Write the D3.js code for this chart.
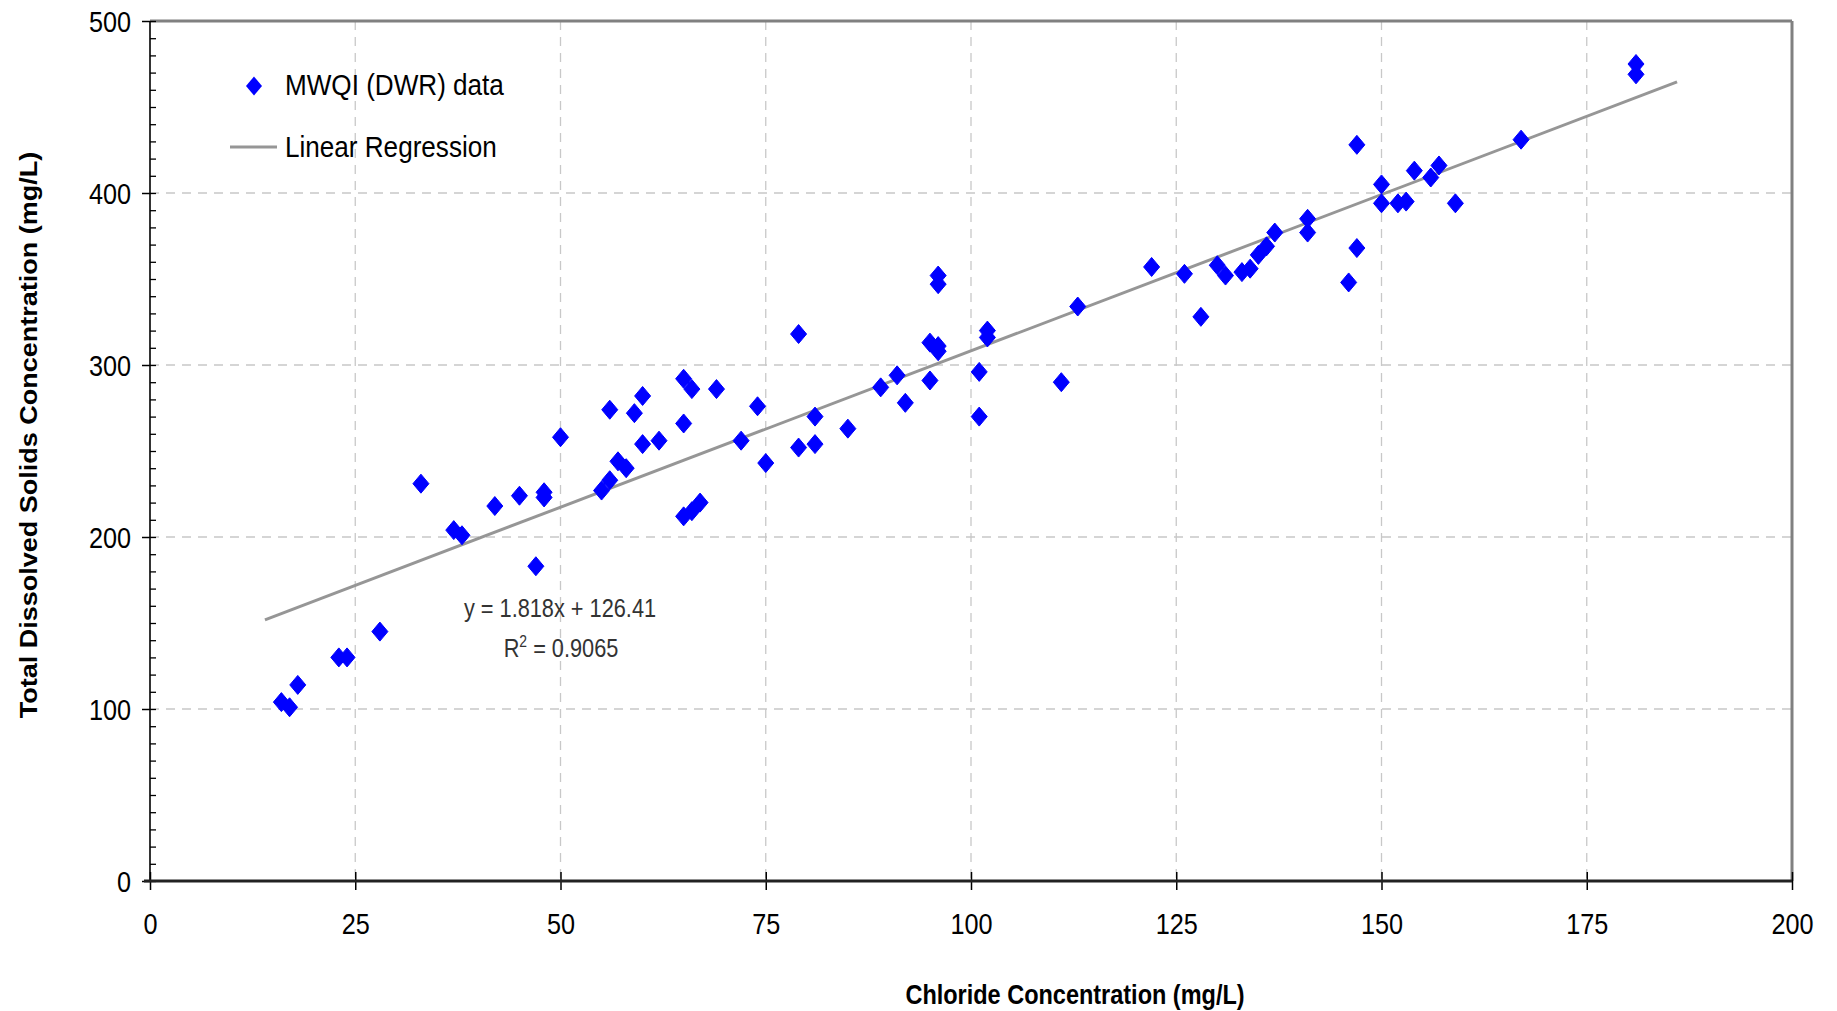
<!DOCTYPE html>
<html>
<head>
<meta charset="utf-8">
<script src="https://cdn.jsdelivr.net/npm/d3@7"></script>
<style>
  body { margin: 0; background: #fff; }
  svg { display: block; font-family: "Liberation Sans", Arial, sans-serif; }
</style>
</head>
<body>
<div id="chart"></div>
<script>
// Chloride (mg/L) vs TDS (mg/L), MWQI (DWR) samples
const chloride = [16, 17, 18, 23, 24, 28, 33, 37, 38, 42, 45, 47, 48, 48, 50,
    55, 56, 56, 57, 58, 59, 60, 60, 62, 65, 65, 66, 65, 66, 67, 69, 72, 74, 75,
    79, 79, 81, 81, 85, 89, 91, 92, 95, 95, 96, 96, 96, 96, 101, 101, 102, 102,
    111, 113, 122, 126, 128, 130, 131, 133, 134, 135, 136, 137, 141, 141, 146,
    147, 147, 150, 150, 152, 153, 154, 156, 157, 159, 167, 181, 181];
const tds = [104, 101, 114, 130, 130, 145, 231, 204, 201, 218, 224, 183, 226, 223, 258,
    227, 233, 274, 244, 240, 272, 282, 254, 256, 292, 266, 286, 212, 215, 220, 286, 256, 276, 243,
    318, 252, 270, 254, 263, 287, 294, 278, 313, 291, 352, 347, 311, 308, 296, 270, 320, 316,
    290, 334, 357, 353, 328, 358, 352, 354, 356, 364, 369, 377, 385, 377, 348,
    428, 368, 405, 394, 394, 395, 413, 409, 416, 394, 431, 475, 469];

const xTicks = [0, 25, 50, 75, 100, 125, 150, 175, 200];
const yTicks = [0, 100, 200, 300, 400, 500];
const slope = 1.818;
const intercept = 126.41;
const fitRange = [14, 186];
const legendLabels = ["MWQI (DWR) data", "Linear Regression"];

const WIDTH = 1837;
const HEIGHT = 1011;
const MARGINS = { top: 21, right: 45, bottom: 130, left: 150 };
const SQUEEZE = 0.87; // the picture's text is horizontally condensed

const xScale = d3.scaleLinear()
    .domain([0, 200])
    .range([MARGINS.left, WIDTH - MARGINS.right]);
const yScale = d3.scaleLinear()
    .domain([0, 500])
    .range([HEIGHT - MARGINS.bottom, MARGINS.top]);

const svg = d3.select("#chart").append("svg")
    .attr("width", WIDTH)
    .attr("height", HEIGHT)
    .attr("viewBox", [0, 0, WIDTH, HEIGHT]);

const x0 = xScale(0), x1 = xScale(200), y0 = yScale(0), y1 = yScale(500);

// Grid lines
svg.append("g")
    .selectAll("line")
    .data(xTicks.slice(1, -1))
    .join("line")
    .attr("x1", d => xScale(d)).attr("x2", d => xScale(d))
    .attr("y1", y1).attr("y2", y0)
    .style("stroke", "#c8c8c8")
    .style("stroke-width", 1.3)
    .style("stroke-dasharray", "9,7");
svg.append("g")
    .selectAll("line")
    .data(yTicks.slice(1, -1))
    .join("line")
    .attr("x1", x0).attr("x2", x1)
    .attr("y1", d => yScale(d)).attr("y2", d => yScale(d))
    .style("stroke", "#c8c8c8")
    .style("stroke-width", 1.3)
    .style("stroke-dasharray", "9,7");

// Frame top / right
svg.append("line")
    .attr("x1", x0).attr("x2", x1).attr("y1", y1).attr("y2", y1)
    .style("stroke", "#808080").style("stroke-width", 3);
svg.append("line")
    .attr("x1", x1).attr("x2", x1).attr("y1", y1).attr("y2", y0)
    .style("stroke", "#808080").style("stroke-width", 3);

// Y axis left
const yAxis = svg.append("g")
    .attr("transform", `translate(${x0},0)`)
    .call(d3.axisLeft(yScale).tickValues(yTicks).tickSizeInner(8).tickSizeOuter(0));
yAxis.select(".domain").remove();
yAxis.selectAll("line").style("stroke", "#000").style("stroke-width", 1.5);
yAxis.selectAll("text")
    .attr("x", null).attr("dy", "0.35em")
    .attr("transform", `translate(-19,0) scale(${SQUEEZE},1)`)
    .style("font-size", "29px")
    .style("fill", "#000");

// minor ticks inside
const yMinor = svg.append("g")
    .attr("transform", `translate(${x0},0)`)
    .call(d3.axisRight(yScale).tickValues(d3.range(0, 501, 10)).tickSize(6).tickFormat(""));
yMinor.select(".domain").remove();
yMinor.selectAll("line").style("stroke", "#000").style("stroke-width", 1.3);

svg.append("line")
    .attr("x1", x0).attr("x2", x0).attr("y1", y1).attr("y2", y0)
    .style("stroke", "#000").style("stroke-width", 1.6);

// X axis bottom
const xAxis = svg.append("g")
    .attr("transform", `translate(0,${y0})`)
    .call(d3.axisBottom(xScale).tickValues(xTicks).tickSizeInner(9).tickSizeOuter(0));
xAxis.select(".domain").remove();
xAxis.selectAll("line").style("stroke", "#000").style("stroke-width", 1.5);
xAxis.selectAll("text")
    .attr("y", null).attr("dy", null)
    .attr("transform", `translate(0,53) scale(${SQUEEZE},1)`)
    .style("font-size", "29px")
    .style("fill", "#000");

const xTop = svg.append("g")
    .attr("transform", `translate(0,${y0})`)
    .call(d3.axisTop(xScale).tickValues(xTicks).tickSize(9).tickFormat(""));
xTop.select(".domain").remove();
xTop.selectAll("line").style("stroke", "#000").style("stroke-width", 1.5);

svg.append("line")
    .attr("x1", x0 - 6).attr("x2", x1).attr("y1", y0).attr("y2", y0)
    .style("stroke", "#222").style("stroke-width", 3);

// Axis titles
svg.append("text")
    .text("Chloride Concentration (mg/L)")
    .attr("text-anchor", "middle")
    .attr("transform", `translate(1075,1004) scale(${SQUEEZE},1)`)
    .style("font-size", "27px")
    .style("font-weight", "bold");
svg.append("text")
    .text("Total Dissolved Solids Concentration (mg/L)")
    .attr("text-anchor", "middle")
    .attr("transform", `translate(37,435) scale(${SQUEEZE},1) rotate(-90)`)
    .style("font-size", "27px")
    .style("font-weight", "bold");

// Regression line
const fit = fitRange.map(v => ({ x: v, y: slope * v + intercept }));
svg.append("path")
    .datum(fit)
    .attr("d", d3.line().x(d => xScale(d.x)).y(d => yScale(d.y)))
    .style("fill", "none")
    .style("stroke", "#969696")
    .style("stroke-width", 3);

// Diamond markers
const diamond = (cx, cy) => `M${cx},${cy - 9.5}L${cx + 8},${cy}L${cx},${cy + 9.5}L${cx - 8},${cy}Z`;
svg.append("g")
    .selectAll("path")
    .data(chloride.map((c, i) => ({ c: c, t: tds[i] })))
    .join("path")
    .attr("d", d => diamond(xScale(d.c), yScale(d.t)))
    .style("fill", "#0000ff")
    .style("stroke", "#0000ff")
    .style("stroke-width", 1)
    .style("stroke-linejoin", "round");

// Equation
const eq = svg.append("g").style("fill", "#333").style("font-size", "25px");
eq.append("text")
    .text(`y = ${slope}x + ${intercept}`)
    .attr("text-anchor", "middle")
    .attr("transform", `translate(560,617) scale(${SQUEEZE},1)`);
const r2 = eq.append("text")
    .attr("text-anchor", "middle")
    .attr("transform", `translate(561,657) scale(${SQUEEZE},1)`);
r2.append("tspan").text("R");
r2.append("tspan").text("2").attr("dy", -10).style("font-size", "16px");
r2.append("tspan").text(" = 0.9065").attr("dy", 10);

// Legend
svg.append("path")
    .attr("d", diamond(254, 86))
    .style("fill", "#0000ff");
svg.append("text")
    .text(legendLabels[0])
    .attr("transform", `translate(285,95) scale(${SQUEEZE},1)`)
    .style("font-size", "30px");
svg.append("line")
    .attr("x1", 230).attr("x2", 277).attr("y1", 147).attr("y2", 147)
    .style("stroke", "#969696").style("stroke-width", 3);
svg.append("text")
    .text(legendLabels[1])
    .attr("transform", `translate(285,157) scale(${SQUEEZE},1)`)
    .style("font-size", "30px");
</script>
</body>
</html>
